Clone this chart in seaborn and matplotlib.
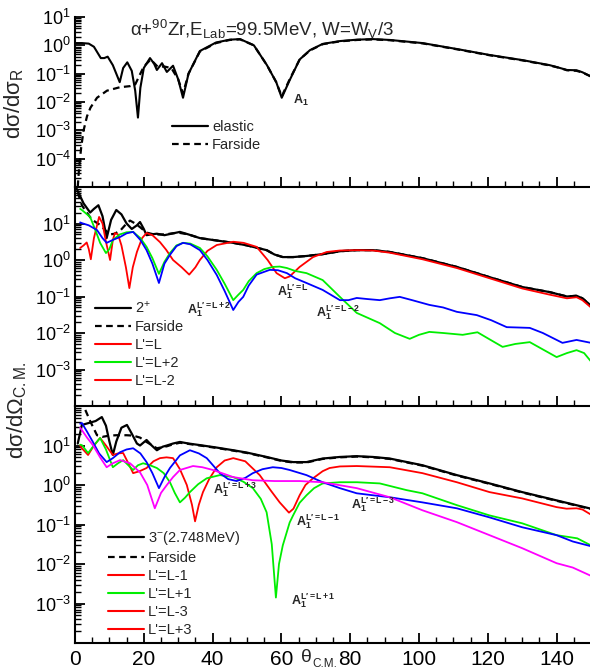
import numpy as np
import pandas as pd
import matplotlib
matplotlib.use("Agg")
import matplotlib.pyplot as plt
from matplotlib.lines import Line2D
from matplotlib.ticker import LogLocator, MultipleLocator, NullFormatter
import seaborn as sns

# ---------------- data (x in degrees, y as log10 of the cross section) -------------
# Top panel: elastic ratio to Rutherford
top_el_x = [0, 2, 4, 5.5, 7.5, 8.5, 9.5, 11, 13, 14, 15.2, 16.5, 17.5, 18.3, 19, 20, 21.8, 23, 23.8, 25.3,
            26.7, 28.5, 30, 31.4, 33, 36.3, 41, 45, 48, 52, 55.8, 58.5, 60.1, 62.4, 65.3, 68.3, 72, 77, 82,
            86.6, 91.5, 101, 111, 120.5, 130, 138, 141, 143, 145.8, 147.5, 150]
top_el_y = [0.08, 0.08, 0.06, -0.05, -0.45, -0.45, -0.40, -0.7, -1.30, -0.8, -0.6, -0.9, -1.6, -2.55, -1.5,
            -0.8, -0.45, -0.65, -0.87, -0.63, -0.94, -0.72, -1.2, -1.85, -1.0, -0.2, 0.1, 0.2, 0.22, 0.0, -0.7,
            -1.3, -1.85, -1.23, -0.5, -0.17, 0.05, 0.15, 0.2, 0.22, 0.19, 0.08, -0.13, -0.34, -0.52, -0.7,
            -0.8, -0.87, -0.88, -0.95, -1.1]
top_far_x = [0.8, 1.2, 1.8, 2.5, 3.5, 4.5, 6.4, 9.3, 13, 16, 17.5, 19, 20, 22, 24, 26, 28, 30, 31.4, 33,
             36.3, 41, 45, 48, 52, 55.8, 58.5, 60.1, 62.4, 65.3, 68.3, 72, 77, 82, 86.6, 91.5, 101, 111,
             120.5, 130, 138, 141, 143, 145.8, 147.5, 150]
top_far_y = [-5.0, -4.3, -3.6, -3.0, -2.5, -2.2, -1.85, -1.6, -1.48, -1.44, -1.38, -1.0, -0.75, -0.5, -0.75,
             -0.75, -0.8, -1.2, -1.7, -1.0, -0.22, 0.08, 0.19, 0.21, 0.0, -0.7, -1.3, -1.8, -1.2, -0.5, -0.18,
             0.04, 0.14, 0.19, 0.21, 0.18, 0.07, -0.14, -0.35, -0.53, -0.71, -0.8, -0.88, -0.9, -0.96, -1.1]

# Middle panel: 2+ state
mid_tot_x = [0.5, 1.5, 2.5, 4.4, 5.5, 6.8, 8, 9.2, 10.5, 12, 13.5, 15, 16.5, 18, 18.9, 20, 20.8, 22, 23.8,
             26, 28, 30.5, 33, 36.3, 40, 46, 50, 55.7, 58, 60.4, 63.4, 67.3, 72, 77, 82, 86.6, 91.5, 101,
             111, 120.5, 130, 138, 143, 145.8, 147.5, 150]
mid_tot_y = [1.95, 1.75, 1.55, 1.3, 1.4, 1.5, 1.2, 0.6, 1.1, 1.37, 1.25, 1.0, 0.85, 0.95, 1.04, 0.85, 0.68,
             0.7, 0.72, 0.68, 0.72, 0.77, 0.7, 0.6, 0.55, 0.47, 0.4, 0.27, 0.15, 0.08, 0.08, 0.11, 0.16, 0.24,
             0.27, 0.27, 0.22, 0.05, -0.19, -0.47, -0.74, -0.88, -1.0, -0.98, -1.05, -1.25]
mid_far_x = [0.8, 2, 3.4, 5, 7.3, 9, 10.2, 11.5, 13.1, 15, 16, 17.5, 18.9, 20.8, 23, 26, 30, 33, 36.3, 40,
             46, 50, 55.7, 58, 60.4, 63.4, 67.3, 72, 77, 82, 86.6, 91.5, 101, 111, 120.5, 130, 138, 143,
             145.8, 147.5, 150]
mid_far_y = [1.85, 1.5, 1.3, 1.1, 0.96, 0.8, 0.7, 0.72, 0.8, 1.0, 1.08, 1.0, 0.9, 0.75, 0.7, 0.7, 0.75,
             0.7, 0.6, 0.55, 0.47, 0.4, 0.27, 0.15, 0.08, 0.08, 0.11, 0.16, 0.24, 0.27, 0.27, 0.22, 0.05,
             -0.19, -0.47, -0.74, -0.88, -1.0, -0.98, -1.05, -1.25]
mid_L_x = [1.5, 2.5, 3.4, 4.0, 4.6, 5.5, 7.0, 8.0, 9.0, 10.2, 11.0, 11.6, 12.5, 13.5, 14.8, 15.8, 16.8, 18,
           19.5, 20.8, 22.5, 24.7, 26.5, 28.5, 31, 33.2, 35, 36.3, 38.5, 41.2, 46, 49, 52.8, 56, 58.6, 61,
           62.4, 65.3, 69.2, 73.2, 77, 82, 86.6, 91.5, 101, 111, 120.5, 130, 138, 143, 145.8, 147.5, 150]
mid_L_y = [0.33, 0.4, 0.48, 0.3, 0.02, 0.6, 1.18, 1.0, 0.5, 0.0, 0.55, 0.74, 0.7, 0.4, -0.2, -0.77, -0.2,
           0.22, 0.6, 0.74, 0.68, 0.49, 0.28, 0.0, -0.2, -0.4, -0.2, 0.0, 0.25, 0.41, 0.5, 0.47, 0.36, 0.0,
           -0.36, -0.5, -0.45, -0.19, 0.08, 0.22, 0.26, 0.27, 0.26, 0.2, 0.02, -0.22, -0.5, -0.78, -0.95,
           -1.05, -1.02, -1.1, -1.3]
mid_Lp2_x = [1.5, 2, 4.4, 6, 7.3, 9, 10, 11, 13, 15, 16.9, 19, 20.8, 22.5, 24.4, 26, 27.6, 29.5, 31.4, 33.5,
             36.3, 38.5, 41.2, 43.5, 46, 47.5, 48.9, 50.5, 52.8, 55, 57.5, 59.5, 61.6, 64, 67.3, 72, 77, 81.9,
             88.6, 93, 97.3, 100, 103, 107, 112.7, 117, 121, 124.3, 128, 132.2, 136, 140, 143, 145.8, 148, 150]
mid_Lp2_y = [1.4, 1.37, 1.18, 0.8, 0.47, 0.19, 0.3, 0.55, 0.7, 0.76, 0.77, 0.6, 0.36, 0.05, -0.38, -0.05,
             0.19, 0.4, 0.47, 0.45, 0.33, 0.1, -0.27, -0.65, -1.1, -0.95, -0.82, -0.58, -0.36, -0.25, -0.19,
             -0.18, -0.22, -0.3, -0.36, -0.55, -1.01, -1.45, -1.73, -2.0, -2.16, -2.05, -1.97, -2.0, -2.05,
             -1.98, -2.2, -2.38, -2.3, -2.25, -2.45, -2.66, -2.55, -2.47, -2.55, -2.78]
mid_Lm2_x = [1.5, 2, 4, 6.4, 8, 9.2, 11, 13.1, 15, 16.9, 19, 20.8, 22.5, 24.4, 26, 27.6, 29.5, 31.4, 33.5,
             36.3, 38.5, 41.2, 43.5, 46, 47.5, 48.9, 50.5, 52.8, 56.6, 59, 61.6, 64, 67.3, 72, 77, 79.5, 81.9,
             85, 88.6, 91.5, 94.4, 98, 103, 107, 111, 116.8, 121, 125.5, 129, 132.2, 136, 141.7, 145.8, 150]
mid_Lm2_y = [1.03, 1.01, 0.95, 0.82, 0.6, 0.47, 0.55, 0.63, 0.73, 0.77, 0.55, 0.27, -0.1, -0.63, -0.1,
             0.14, 0.38, 0.47, 0.43, 0.27, 0.0, -0.41, -0.85, -1.37, -1.15, -1.01, -0.7, -0.4, -0.27, -0.28,
             -0.36, -0.5, -0.63, -0.82, -1.1, -1.1, -1.04, -1.07, -1.1, -1.05, -1.01, -1.1, -1.23, -1.3,
             -1.42, -1.51, -1.65, -1.84, -1.85, -1.86, -2.0, -2.27, -2.19, -2.27]

# Bottom panel: 3- (2.748 MeV) state
bot_tot_x = [0.8, 2, 4.4, 6, 7.8, 9, 10, 11, 12, 13.5, 15.1, 16.5, 18, 18.9, 20.8, 22.3, 23.8, 25.5, 26.7,
             28.5, 30.5, 33, 36.3, 41, 46, 50, 55.7, 60, 63.4, 67.3, 72, 77, 81.9, 86.6, 91.5, 101, 111,
             120.5, 130, 140, 150]
bot_tot_y = [1.05, 1.52, 1.58, 1.62, 1.72, 1.5, 1.1, 0.76, 1.1, 1.45, 1.52, 1.3, 1.05, 1.0, 1.14, 1.0, 0.88,
             0.97, 1.0, 1.05, 1.09, 1.05, 1.01, 0.95, 0.88, 0.82, 0.71, 0.62, 0.58, 0.58, 0.67, 0.71, 0.73,
             0.71, 0.67, 0.5, 0.25, 0.04, -0.18, -0.39, -0.6]
bot_far_x = [3, 4.5, 6.4, 8, 10, 12, 15, 16.9, 18.9, 20.8, 23.8, 26.7, 28.5, 30.5, 33, 36.3, 41, 46, 50,
             55.7, 60, 63.4, 67.3, 72, 77, 81.9, 86.6, 91.5, 101, 111, 120.5, 130, 140, 150]
bot_far_y = [1.9, 1.6, 1.26, 1.22, 1.25, 1.26, 1.26, 1.25, 1.2, 1.09, 0.93, 0.98, 1.03, 1.07, 1.04, 1.0,
             0.94, 0.87, 0.81, 0.7, 0.61, 0.57, 0.57, 0.66, 0.7, 0.72, 0.7, 0.66, 0.49, 0.24, 0.03, -0.19,
             -0.4, -0.61]
bot_Lm1_x = [1.5, 2, 3.8, 5.5, 7.3, 9, 11, 12.5, 14, 15.5, 16.9, 18.8, 20.8, 22.8, 24.7, 26.6, 28.5, 30.5,
             32.5, 34, 34.9, 36, 37.2, 39, 41.2, 43.5, 46, 49.5, 53.7, 57, 59.5, 62.2, 63.5, 65.3, 67, 69.2,
             72, 74, 77, 81.9, 91.5, 101, 111, 120.5, 130, 140, 142.9, 145.8, 147.5, 150]
bot_Lm1_y = [1.0, 0.93, 0.76, 1.0, 1.19, 1.0, 0.76, 0.8, 0.81, 0.55, 0.3, 0.35, 0.43, 0.6, 0.68, 0.7, 0.68,
             0.4, 0.0, -0.5, -0.92, -0.5, -0.18, 0.15, 0.45, 0.62, 0.68, 0.6, 0.25, -0.15, -0.44, -0.7, -0.6,
             -0.26, 0.0, 0.17, 0.35, 0.43, 0.47, 0.48, 0.45, 0.3, 0.07, -0.18, -0.34, -0.56, -0.6, -0.59,
             -0.62, -0.75]
bot_Lp1_x = [1.5, 2, 3.8, 5.5, 7.3, 9, 11, 12.5, 14, 15.5, 16.9, 18.3, 19.8, 21.8, 23.8, 25.8, 27.6, 29,
             30.5, 32, 33.4, 35.8, 38.3, 42.1, 46, 49, 51.7, 54, 55.7, 57.2, 58.4, 59.3, 60.4, 62.4, 63.4,
             65.3, 67.3, 69.5, 72, 77, 82, 88.6, 96.4, 101, 111, 120.5, 130, 140, 143.8, 146, 150]
bot_Lp1_y = [1.02, 1.01, 0.81, 1.0, 1.19, 0.9, 0.45, 0.55, 0.63, 0.5, 0.38, 0.5, 0.55, 0.5, 0.43, 0.3, 0.07,
             -0.2, -0.44, -0.32, -0.18, 0.02, 0.17, 0.25, 0.2, 0.08, -0.08, -0.35, -0.69, -1.5, -2.85, -2.0,
             -1.53, -0.95, -0.77, -0.45, -0.26, -0.08, 0.04, 0.07, 0.07, 0.04, -0.13, -0.21, -0.51, -0.77,
             -0.97, -1.27, -1.32, -1.35, -1.53]
bot_Lm3_x = [1.5, 2, 3.5, 5.2, 7, 9.2, 11, 13.1, 15, 16.9, 19, 20.8, 22.5, 24.4, 26, 27.6, 30.5, 33.4, 36,
             38.3, 42.1, 44.5, 47, 49.5, 51.7, 54.5, 57.5, 60, 62.4, 67.3, 72, 77, 81.9, 86.6, 91.5, 101,
             111, 120.5, 130, 140, 144.7, 150]
bot_Lm3_y = [1.55, 1.57, 1.35, 1.09, 0.8, 0.58, 0.68, 0.83, 0.9, 0.93, 0.8, 0.58, 0.3, -0.08, 0.2, 0.43,
             0.75, 0.88, 0.8, 0.68, 0.3, 0.15, 0.1, 0.18, 0.3, 0.4, 0.45, 0.43, 0.38, 0.25, 0.07, -0.08,
             -0.21, -0.26, -0.31, -0.44, -0.59, -0.82, -1.07, -1.27, -1.43, -1.55]
bot_Lp3_x = [1.5, 2, 3.5, 5.2, 7.3, 9.2, 11, 13.1, 16, 18.9, 21, 23.2, 25, 26.7, 28.5, 30.5, 34.3, 37, 40.1,
             46, 51.7, 58, 65.3, 72, 81.9, 91.5, 101, 111, 120.5, 130, 140, 144.7, 150]
bot_Lp3_y = [1.45, 1.39, 1.2, 1.01, 0.7, 0.45, 0.55, 0.63, 0.55, 0.32, 0.0, -0.59, -0.2, 0.0, 0.2, 0.38,
             0.48, 0.45, 0.38, 0.2, 0.12, 0.1, 0.1, 0.07, -0.08, -0.31, -0.64, -0.94, -1.27, -1.6, -1.98,
             -2.09, -2.3]

# legend labels
top_labels = ["elastic", "Farside"]
mid_labels = ["2$^{+}$", "Farside", "L'=L", "L'=L+2", "L'=L-2"]
bot_labels = ["3$^{-}$(2.748MeV)", "Farside", "L'=L-1", "L'=L+1", "L'=L-3", "L'=L+3"]
x_ticks = [0, 20, 40, 60, 80, 100, 120, 140]

# ---------------- style -------------
sns.set_theme(style="ticks")
plt.rcParams["font.family"] = ["Liberation Sans", "DejaVu Sans"]
plt.rcParams["mathtext.fontset"] = "custom"
plt.rcParams["mathtext.rm"] = "Liberation Sans"
plt.rcParams["mathtext.it"] = "Liberation Sans:italic"
plt.rcParams["mathtext.bf"] = "Liberation Sans:bold"

RED = "#ff0000"
GREEN = "#00ee00"
BLUE = "#0000ff"
MAG = "#ff00ff"

W, H = 590, 671
fig = plt.figure(figsize=(W / 100, H / 100), dpi=100)


def ax_rect(top_px, bot_px):
    left = 75 / W
    width = 516 / W
    return [left, 1 - bot_px / H, width, (bot_px - top_px) / H]


ax_top = fig.add_axes(ax_rect(17, 187))
ax_mid = fig.add_axes(ax_rect(187, 406))
ax_bot = fig.add_axes(ax_rect(406, 643))


def draw(ax, x, ylog, color, ls="-", lw=1.3):
    df = pd.DataFrame({"x": x, "y": 10 ** np.asarray(ylog, dtype=float)})
    sns.lineplot(data=df, x="x", y="y", ax=ax, color=color, linestyle=ls, lw=lw,
                 estimator=None, sort=False, legend=False)


# top
draw(ax_top, top_far_x, top_far_y, "black", ls=(0, (3, 2)), lw=1.6)
draw(ax_top, top_el_x, top_el_y, "black", lw=1.5)
# middle
draw(ax_mid, mid_tot_x, mid_tot_y, "black", lw=1.6)
draw(ax_mid, mid_far_x, mid_far_y, "black", ls=(0, (3, 2)), lw=1.6)
draw(ax_mid, mid_L_x, mid_L_y, RED)
draw(ax_mid, mid_Lp2_x, mid_Lp2_y, GREEN)
draw(ax_mid, mid_Lm2_x, mid_Lm2_y, BLUE)
# bottom
draw(ax_bot, bot_tot_x, bot_tot_y, "black", lw=1.6)
draw(ax_bot, bot_far_x, bot_far_y, "black", ls=(0, (3, 2)), lw=1.6)
draw(ax_bot, bot_Lm1_x, bot_Lm1_y, RED)
draw(ax_bot, bot_Lp1_x, bot_Lp1_y, GREEN)
draw(ax_bot, bot_Lm3_x, bot_Lm3_y, BLUE)
draw(ax_bot, bot_Lp3_x, bot_Lp3_y, MAG)

for ax, ylim, yt in [(ax_top, (1e-5, 1e1), [1e-4, 1e-3, 1e-2, 1e-1, 1e0, 1e1]),
                     (ax_mid, (1e-4, 1e2), [1e-3, 1e-2, 1e-1, 1e0, 1e1]),
                     (ax_bot, (1e-4, 1e2), [1e-3, 1e-2, 1e-1, 1e0, 1e1])]:
    ax.set_yscale("log")
    ax.set_ylim(*ylim)
    ax.set_xlim(0, 150)
    ax.set_yticks(yt)
    ax.yaxis.set_minor_locator(LogLocator(base=10, subs=np.arange(2, 10), numticks=50))
    ax.yaxis.set_minor_formatter(NullFormatter())
    ax.set_xticks(x_ticks)
    ax.xaxis.set_minor_locator(MultipleLocator(5))
    ax.set_xlabel("")
    ax.set_ylabel("")
    ax.set_facecolor("none")
    for s in ["top", "right"]:
        ax.spines[s].set_visible(False)
    for s in ["left", "bottom"]:
        ax.spines[s].set_linewidth(1.5)
        ax.spines[s].set_color("black")
    ax.tick_params(which="major", direction="in", length=7, width=1.3, colors="black",
                   labelsize=13, pad=3)
    ax.tick_params(which="minor", direction="in", length=4, width=1.0, colors="black")
    ax.tick_params(axis="x", labelsize=15, pad=5)

ax_top.tick_params(axis="x", labelbottom=False)
ax_mid.tick_params(axis="x", labelbottom=False)
ax_bot.set_xticklabels([str(v) for v in x_ticks])

# title in top panel
fig.text(130 / W, 1 - 29 / H,
         r"α+$^{\mathregular{90}}$Zr,E$_{\mathregular{Lab}}$=99.5MeV, W=W$_{\mathregular{V}}$/3",
         fontsize=13.5, ha="left", va="center")

# axis labels
fig.text(14 / W, 1 - 103 / H, r"dσ/dσ$_{\mathregular{R}}$", rotation=90,
         fontsize=16, ha="center", va="center")
fig.text(17 / W, 1 - 410 / H, r"dσ/dΩ$_{\mathregular{C.M.}}$", rotation=90,
         fontsize=16, ha="center", va="center")
fig.text(301 / W, 1 - 657 / H, "θ", fontsize=14, ha="left", va="center")
fig.text(312 / W, 1 - 664 / H, "C.M.", fontsize=8.5, ha="left", va="center")


# legends
def make_legend(ax, labels, colors, styles, x_px, y_px):
    handles = [Line2D([0], [0], color=c, ls=s, lw=1.6 if c == "black" else 1.5)
               for c, s in zip(colors, styles)]
    ax.legend(handles, labels, loc="upper left", bbox_to_anchor=(x_px / W, 1 - y_px / H),
              bbox_transform=fig.transFigure, frameon=False, fontsize=10.5, handlelength=2.5,
              handletextpad=0.25, labelspacing=0.28, borderpad=0, borderaxespad=0)


dash = (0, (3, 2))
make_legend(ax_top, top_labels, ["black", "black"], ["-", dash], 172, 120)
make_legend(ax_mid, mid_labels, ["black", "black", RED, GREEN, RED], ["-", dash, "-", "-", "-"], 95, 300)
make_legend(ax_bot, bot_labels, ["black", "black", RED, GREEN, RED, RED],
            ["-", dash, "-", "-", "-", "-"], 108, 529)


# annotations: Airy minima A_1 with the L' label as a superscript
def airy(ax, x, ylog, sup=None):
    if sup:
        s = r"$\mathbf{A}_{\mathbf{1}}^{\mathbf{" + sup + r"}}$"
    else:
        s = r"$\mathbf{A}_{\mathbf{1}}$"
    ax.text(x, 10 ** ylog, s, fontsize=9, va="center", ha="left")


airy(ax_top, 63.3, -1.93)
airy(ax_mid, 32.6, -1.37, r"L\prime=L+2")
airy(ax_mid, 58.6, -0.88, r"L\prime=L")
airy(ax_mid, 70.0, -1.45, r"L\prime=L-2")
airy(ax_bot, 40.0, -0.13, r"L\prime=L+3")
airy(ax_bot, 64.3, -0.92, r"L\prime=L-1")
airy(ax_bot, 80.3, -0.51, r"L\prime=L-3")
airy(ax_bot, 62.8, -2.92, r"L\prime=L+1")

fig.savefig("out.png", dpi=100)
